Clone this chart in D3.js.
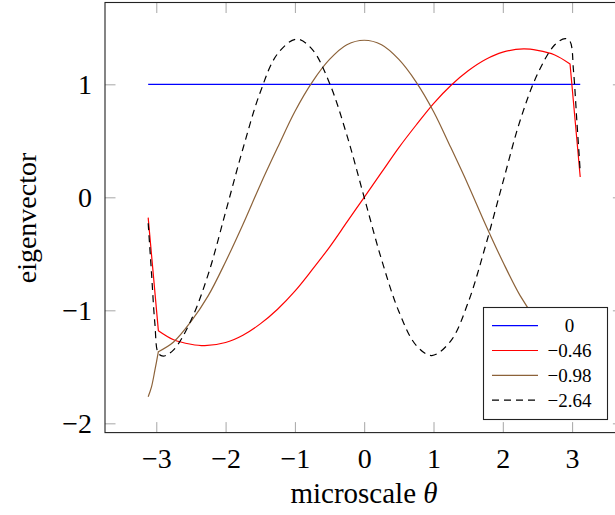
<!DOCTYPE html>
<html lang="en">
<head>
<meta charset="utf-8">
<title>eigenvectors</title>
<script src="https://cdnjs.cloudflare.com/ajax/libs/d3/7.8.5/d3.min.js"></script>
<style>
  body { margin: 0; background: #fff; }
  svg text { font-family: "Liberation Serif", "DejaVu Serif", serif; fill: #000; }
</style>
</head>
<body>
<svg id="chart" width="615" height="515"></svg>
<script>
// tick values
var xTicks = [-3, -2, -1, 0, 1, 2, 3];
var yTicks = [-2, -1, 0, 1];

// legend labels (eigenvalues)
var labels = ["0", "\u22120.46", "\u22120.98", "\u22122.64"];

// eigenvalue 0
var thetaBlue = [-3.117, 3.117];
var blue = [1, 1];

// eigenvalue -0.46
var thetaRed = [-3.117, -2.97, -2.75, -2.5, -2.3, -2.0, -1.75, -1.5, -1.25, -1.0, -0.75, -0.5, -0.25, 0,
  0.25, 0.5, 0.75, 1.0, 1.25, 1.5, 1.75, 2.0, 2.3, 2.5, 2.75, 2.97, 3.117];
var red = [-0.18, -1.18, -1.26, -1.30, -1.313, -1.285, -1.22, -1.12, -0.99, -0.83, -0.64, -0.44, -0.22, 0,
  0.22, 0.44, 0.64, 0.83, 0.99, 1.12, 1.22, 1.285, 1.313, 1.30, 1.26, 1.18, 0.18];

// eigenvalue -0.98
var thetaBrown = [-3.117, -3.07, -3.02, -2.97, -2.75, -2.5, -2.25, -2, -1.75, -1.5, -1.25, -1, -0.75, -0.5, -0.25, 0,
  0.25, 0.5, 0.75, 1, 1.25, 1.5, 1.75, 2, 2.25, 2.5, 2.75, 2.97, 3.02, 3.07, 3.117];
var brown = [-1.765, -1.68, -1.53, -1.366, -1.28, -1.10, -0.87, -0.57, -0.24, 0.11, 0.44, 0.76, 1.02, 1.22, 1.35, 1.39,
  1.35, 1.22, 1.02, 0.76, 0.44, 0.11, -0.24, -0.57, -0.87, -1.10, -1.28, -1.366, -1.53, -1.68, -1.765];

// eigenvalue -2.64
var thetaDash = [-3.117, -3.07, -3.02, -2.97, -2.9, -2.75, -2.5, -2.25, -2, -1.75, -1.5, -1.25, -0.975, -0.75, -0.5, -0.25, 0,
  0.25, 0.5, 0.75, 0.975, 1.25, 1.5, 1.75, 2, 2.25, 2.5, 2.75, 2.9, 2.97, 3.02, 3.07, 3.117];
var dashed = [-0.23, -0.66, -1.12, -1.38, -1.405, -1.35, -1.09, -0.68, -0.13, 0.43, 0.93, 1.27, 1.40, 1.31, 1.01, 0.55, 0,
  -0.55, -1.01, -1.31, -1.40, -1.27, -0.93, -0.43, 0.13, 0.68, 1.09, 1.35, 1.405, 1.38, 1.12, 0.66, 0.23];

// sharp corners in the curves (theta values)
var cornersRed = [-2.97, 2.97];
var cornersBrown = [-2.97, 2.97];

var series = [
  {name: labels[0], t: thetaBlue, v: blue, corners: [], color: "#0000ff", dash: null},
  {name: labels[1], t: thetaRed, v: red, corners: cornersRed, color: "#ff0000", dash: null},
  {name: labels[2], t: thetaBrown, v: brown, corners: cornersBrown, color: "#8c6239", dash: null},
  {name: labels[3], t: thetaDash, v: dashed, corners: [], color: "#000000", dash: "7,5"}
];

var svg = d3.select("#chart");
var pLeft = 105, pRight = 623.4, pTop = 2.5, pBottom = 432.6;

var x = d3.scaleLinear().domain([-3.74, 3.74]).range([pLeft, pRight]);
var y = d3.scaleLinear().domain([-2.082, 1.724]).range([pBottom, pTop]);

// axes, ticks pointing inwards
function styleAxis(g) {
  g.select(".domain").remove();
  g.selectAll(".tick line").attr("stroke", "#a6a6a6").attr("stroke-width", 1);
  g.selectAll(".tick text").style("font-size", "28px").attr("fill", "#000");
}
svg.append("g").attr("transform", "translate(0," + pBottom + ")")
  .call(d3.axisBottom(x).tickValues(xTicks).tickFormat(d3.format("d")).tickSize(-10.5).tickPadding(16))
  .call(styleAxis);
svg.append("g").attr("transform", "translate(0," + pTop + ")")
  .call(d3.axisTop(x).tickValues(xTicks).tickFormat("").tickSize(-10.5))
  .call(styleAxis);
svg.append("g").attr("transform", "translate(" + pLeft + ",0)")
  .call(d3.axisLeft(y).tickValues(yTicks).tickFormat(d3.format("d")).tickSize(-10.5).tickPadding(13))
  .call(styleAxis);
svg.append("g").attr("transform", "translate(" + pRight + ",0)")
  .call(d3.axisRight(y).tickValues(yTicks).tickFormat("").tickSize(-10.5))
  .call(styleAxis);

// curves
var line = d3.line()
  .x(function(d) { return x(d[0]); })
  .y(function(d) { return y(d[1]); })
  .curve(d3.curveCatmullRom.alpha(0.5));

series.forEach(function(s) {
  var pts = s.t.map(function(t, i) { return [t, s.v[i]]; });
  // split at corners so the kinks stay sharp, then join pieces in one path
  var cuts = s.corners.map(function(c) { return s.t.indexOf(c); });
  var pieces = [], start = 0;
  cuts.forEach(function(ci) { pieces.push(pts.slice(start, ci + 1)); start = ci; });
  pieces.push(pts.slice(start));
  svg.append("path")
    .attr("d", pieces.map(function(p, k) {
      var seg = line(p);
      return k === 0 ? seg : seg.replace(/^M/, "L");
    }).join(""))
    .attr("fill", "none")
    .attr("stroke", s.color)
    .attr("stroke-width", 1.2)
    .attr("stroke-linejoin", "miter")
    .attr("stroke-dasharray", s.dash);
});

// frame
svg.append("rect")
  .attr("x", pLeft).attr("y", pTop)
  .attr("width", pRight - pLeft).attr("height", pBottom - pTop)
  .attr("fill", "none").attr("stroke", "#222").attr("stroke-width", 1.1);

// legend
var lg = svg.append("g");
lg.append("rect")
  .attr("x", 483.5).attr("y", 307.5).attr("width", 124).attr("height", 112)
  .attr("fill", "#fff").attr("stroke", "#222").attr("stroke-width", 1.1);
series.forEach(function(s, i) {
  var ry = 325.7 + i * 24.8;
  lg.append("line")
    .attr("x1", 492).attr("x2", 538).attr("y1", ry).attr("y2", ry)
    .attr("stroke", s.color).attr("stroke-width", 1.2)
    .attr("stroke-dasharray", s.dash);
  lg.append("text")
    .attr("x", 569.5).attr("y", ry).attr("dy", "0.34em")
    .attr("text-anchor", "middle")
    .style("font-size", "19px")
    .text(s.name);
});

// axis labels
svg.append("text")
  .attr("x", 364).attr("y", 502.5)
  .attr("text-anchor", "middle")
  .style("font-size", "29px")
  .html("microscale <tspan font-style='italic'>\u03b8</tspan>");
svg.append("text")
  .attr("transform", "translate(36,218) rotate(-90)")
  .attr("text-anchor", "middle")
  .style("font-size", "28px")
  .text("eigenvector");
</script>
</body>
</html>
